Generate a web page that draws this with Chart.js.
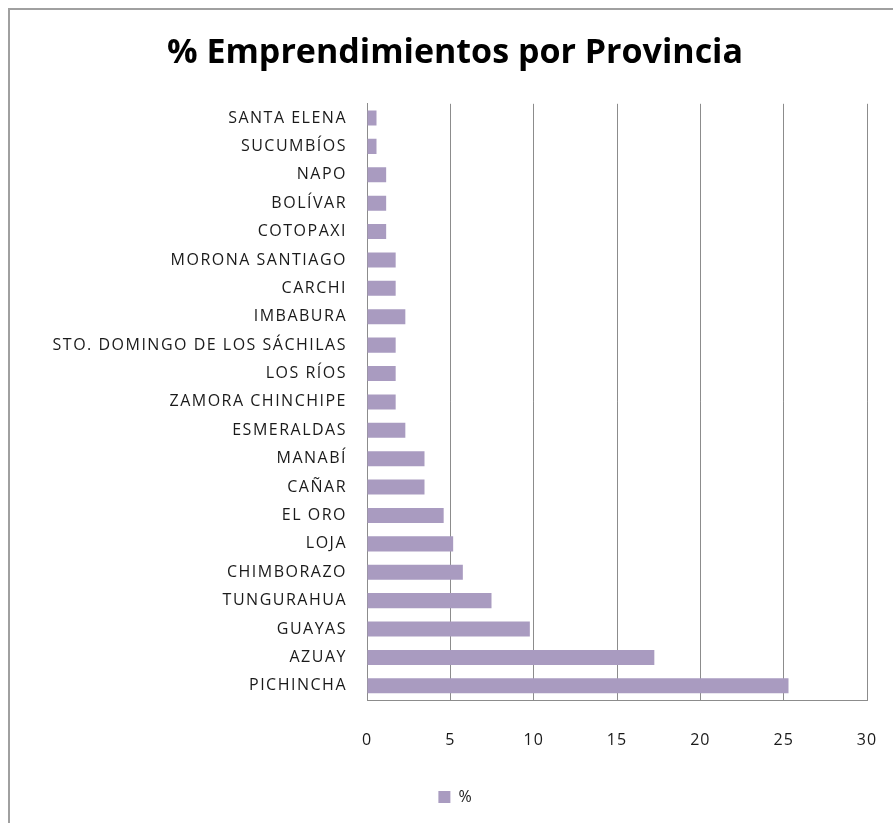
<!DOCTYPE html>
<html lang="es">
<head>
  <meta charset="UTF-8">
  <title>% Emprendimientos por Provincia</title>
  <style>
    body {
      margin: 0;
      padding: 0;
      background: #fff;
      overflow: hidden;
    }
    .frame {
      position: absolute;
      left: 8px;
      top: 8px;
      width: 900px;
      height: 830px;
      border-left: 2px solid #a0a0a0;
      border-top: 2px solid #a0a0a0;
    }
    .chart-container {
      position: absolute;
      left: 0;
      top: 0;
      width: 893px;
      height: 823px;
    }
  </style>
</head>
<body>

<div class="frame"></div>
<div class="chart-container">
  <canvas id="myBarChart"></canvas>
</div>

<script src="https://cdn.jsdelivr.net/npm/chart.js"></script>
<script>
  const provincias = [
    'SANTA ELENA', 'SUCUMBÍOS', 'NAPO', 'BOLÍVAR', 'COTOPAXI', 'MORONA SANTIAGO',
    'CARCHI', 'IMBABURA', 'STO. DOMINGO DE LOS SÁCHILAS', 'LOS RÍOS', 'ZAMORA CHINCHIPE',
    'ESMERALDAS', 'MANABÍ', 'CAÑAR', 'EL ORO', 'LOJA', 'CHIMBORAZO', 'TUNGURAHUA',
    'GUAYAS', 'AZUAY', 'PICHINCHA'
  ];
  const porcentajes = [
    0.57, 0.57, 1.15, 1.15, 1.15, 1.72,
    1.72, 2.30, 1.72, 1.72, 1.72,
    2.30, 3.45, 3.45, 4.60, 5.17, 5.75, 7.47,
    9.77, 17.24, 25.29
  ];
  const xTicks = [0, 5, 10, 15, 20, 25, 30];

  const fuente = "'Open Sans', 'DejaVu Sans', sans-serif";

  // espaciado de letras para las etiquetas de los ejes (parecido a Calibri en Excel)
  const espaciado = {
    id: 'espaciado',
    beforeDraw(chart) {
      [['y', '1.5px'], ['x', '1px']].forEach(([id, sp]) => {
        const s = chart.scales[id];
        if (!s || s._espaciado) return;
        const orig = s.drawLabels.bind(s);
        s.drawLabels = function(area) {
          const c = chart.ctx;
          const prev = c.letterSpacing;
          c.letterSpacing = sp;
          orig(area);
          c.letterSpacing = prev || '0px';
        };
        s._espaciado = true;
      });
    }
  };

  const ctx = document.getElementById('myBarChart').getContext('2d');
  const myBarChart = new Chart(ctx, {
    type: 'bar',
    data: {
      labels: provincias,
      datasets: [{
        label: '%',
        data: porcentajes,
        backgroundColor: '#a99bc0',
        borderWidth: 0,
        categoryPercentage: 1,
        barPercentage: 0.53
      }]
    },
    options: {
      indexAxis: 'y',
      responsive: true,
      maintainAspectRatio: false,
      animation: false,
      layout: {
        padding: { top: 0, right: 26, bottom: 8, left: 43 }
      },
      scales: {
        x: {
          min: 0,
          max: 30,
          afterBuildTicks: (scale) => {
            scale.ticks = xTicks.map(v => ({ value: v }));
          },
          afterFit: (scale) => { scale.height = 79; },
          grid: {
            color: '#8c8c8c',
            lineWidth: 1,
            drawTicks: true,
            tickLength: 28,
            tickColor: 'rgba(0,0,0,0)'
          },
          border: { color: '#8c8c8c', width: 1 },
          ticks: {
            padding: 3,
            color: '#1a1a1a',
            font: { family: fuente, size: 16 }
          }
        },
        y: {
          afterFit: (scale) => { scale.width = 324; },
          grid: { display: false, drawTicks: false },
          border: { color: '#8c8c8c', width: 1 },
          ticks: {
            padding: 20,
            color: '#1a1a1a',
            autoSkip: false,
            font: { family: fuente, size: 16 }
          }
        }
      },
      plugins: {
        title: {
          display: true,
          text: '% Emprendimientos por Provincia',
          color: '#000',
          font: { family: "'Open Sans', sans-serif", size: 34, weight: 'bold' },
          padding: { top: 33, bottom: 30 }
        },
        legend: {
          position: 'bottom',
          labels: {
            boxWidth: 12,
            boxHeight: 12,
            color: '#1a1a1a',
            font: { family: fuente, size: 16 }
          }
        },
        tooltip: { enabled: false }
      }
    },
    plugins: [espaciado]
  });
</script>

</body>
</html>
